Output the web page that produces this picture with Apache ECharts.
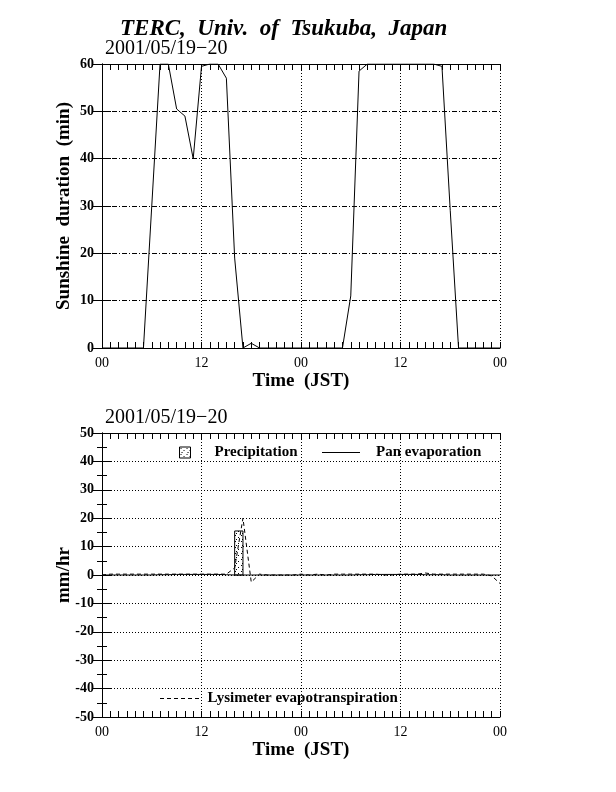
<!DOCTYPE html>
<html>
<head>
<meta charset="utf-8">
<script src="https://cdn.jsdelivr.net/npm/echarts@6/dist/echarts.min.js"></script>
<style>
html, body { margin: 0; padding: 0; background: #fff; }
#main { width: 616px; height: 792px; }
</style>
</head>
<body>
<div id="main"></div>
<script>
// hours since 2001/05/19 00 JST
var hours = [0,1,2,3,4,5,6,7,8,9,10,11,12,13,14,15,16,17,18,19,20,21,22,23,24,
             25,26,27,28,29,30,31,32,33,34,35,36,37,38,39,40,41,42,43,44,45,46,47,48];
// sunshine duration (min per hour)
var sunshine = [0,0,0,0,0,0,30,60,60,50.5,49,40,59.5,60,60,57,19,0,1,0,0,0,0,0,0,
                0,0,0,0,0,11,58.5,60,60,60,60,60,60,60,60,60,59.5,29,0,0,0,0,0,0];
// precipitation (mm/hr), bar covers [hour, hour+1]
var precipHours = [16];
var precipAmounts = [15.5];
// pan evaporation (mm/hr)
var panEvap = [0,0,0,0,0,0,0,0.1,0.1,0.2,0.2,0.2,0.2,0.2,0.2,0.1,0,0,0,0,0,0,0,0,0,
               0,0,0,0,0,0,0.1,0.1,0.2,0.2,0.2,0.2,0.2,0.2,0.1,0.1,0.1,0,0,0,0,0,0,0];
// lysimeter evapotranspiration (mm/hr)
var lysimeter = [0,0.3,0.3,0.3,0.3,0.3,0.3,0.3,0.3,0.3,0.3,0.3,0.3,0.3,0.3,0.3,2.5,20,-2.5,0.3,0,0,0,0,0.3,
                 0,0.3,0,0.3,0.3,0.3,0.3,0.3,0.3,0,0,0.3,0.3,0.3,0.7,0.3,0.3,0.3,0.3,0.3,0.3,0.3,-0.3,-3];
var timeTicks = [0, 12, 24, 36, 48];
var timeLabels = ['00', '12', '00', '12', '00'];

var SERIF = 'Liberation Serif';

function pairs(xs, ys) {
    var out = [];
    for (var i = 0; i < xs.length; i++) out.push([xs[i], ys[i]]);
    return out;
}

// stippled fill for the precipitation bar
var dots = document.createElement('canvas');
dots.width = 6; dots.height = 6;
var dc = dots.getContext('2d');
dc.fillStyle = '#fff'; dc.fillRect(0, 0, 6, 6);
dc.fillStyle = '#000';
dc.fillRect(1, 1, 1, 1); dc.fillRect(4, 3, 1, 1); dc.fillRect(2, 5, 1, 1);
var dotFill = { image: dots, repeat: 'repeat' };

// legend icons: a plain stroke and a dashed stroke
var solidIcon = 'path://M0,0H38V1H0Z';
var dashIcon = 'path://M0,0h4v1h-4zM7,0h4v1h-4zM14,0h4v1h-4zM21,0h4v1h-4zM28,0h4v1h-4zM35,0h4v1h-4z';

var legendText = { fontFamily: SERIF, fontWeight: 'bold', fontSize: 15, color: '#000' };

function timeAxis(grid, pos, withLabel) {
    return {
        type: 'value', gridIndex: grid, position: pos, min: 0, max: 48, interval: 12,
        axisLine: { onZero: false, lineStyle: { color: '#000', width: 1 } },
        axisTick: { inside: true, length: 6, lineStyle: { color: '#000' } },
        minorTick: { show: true, splitNumber: 12, length: 6, lineStyle: { color: '#000' } },
        splitLine: { show: withLabel, lineStyle: { color: '#000', type: [1, 2] } },
        axisLabel: {
            show: withLabel, margin: 8, color: '#000', fontFamily: SERIF, fontSize: 14,
            formatter: function (v) { return timeLabels[timeTicks.indexOf(v)]; }
        },
        name: withLabel ? 'Time  (JST)' : '', nameLocation: 'middle', nameGap: 24,
        nameTextStyle: { color: '#000', fontFamily: SERIF, fontWeight: 'bold', fontSize: 19 }
    };
}

function valueAxis(grid, pos, min, max, minor, gridType, name) {
    var main = pos === 'left';
    return {
        type: 'value', gridIndex: grid, position: pos, min: min, max: max, interval: 10,
        axisLine: { show: true, lineStyle: { color: '#000', width: 1 } },
        axisTick: { show: true, inside: true, length: 9, lineStyle: { color: '#000' } },
        minorTick: { show: minor, splitNumber: 2, length: 5, lineStyle: { color: '#000' } },
        splitLine: { show: main, lineStyle: { color: '#000', type: gridType } },
        axisLabel: { show: main, margin: 8, color: '#000', fontFamily: SERIF, fontWeight: 'bold', fontSize: 14 },
        name: main ? name : '', nameLocation: 'middle', nameRotate: 90, nameGap: 28,
        nameMoveOverlap: false,
        nameTextStyle: { color: '#000', fontFamily: SERIF, fontWeight: 'bold', fontSize: 19 }
    };
}

var chart = echarts.init(document.getElementById('main'));
var option = {
    backgroundColor: '#fff',
    animation: false,
    title: [
        { text: 'TERC,  Univ.  of  Tsukuba,  Japan', left: 115, top: 13,
          textStyle: { fontFamily: SERIF, fontStyle: 'italic', fontWeight: 'bold', fontSize: 23, color: '#000' } },
        { text: '2001/05/19\u221220', left: 100, top: 34,
          textStyle: { fontFamily: SERIF, fontWeight: 'normal', fontSize: 20, color: '#000' } },
        { text: '2001/05/19\u221220', left: 100, top: 403,
          textStyle: { fontFamily: SERIF, fontWeight: 'normal', fontSize: 20, color: '#000' } }
    ],
    legend: [
        { data: [{ name: 'Precipitation', icon: 'rect',
                   itemStyle: { color: dotFill, borderColor: '#000', borderWidth: 1 } }],
          left: 179, top: 445, padding: 0, itemWidth: 11, itemHeight: 11, selectedMode: false,
          textStyle: Object.assign({ padding: [0, 0, 0, 19] }, legendText) },
        { data: [{ name: 'Pan evaporation', icon: solidIcon }], left: 322, top: 445, padding: 0,
          itemWidth: 38, itemHeight: 1, selectedMode: false,
          textStyle: Object.assign({ padding: [0, 0, 0, 11] }, legendText) },
        { data: [{ name: 'Lysimeter evapotranspiration', icon: dashIcon }], left: 160, top: 691, padding: 0,
          itemWidth: 40, itemHeight: 1, selectedMode: false,
          textStyle: Object.assign({ padding: [0, 0, 0, 3] }, legendText) }
    ],
    grid: [
        { left: 102, right: 116, top: 64, height: 284 },
        { left: 102, right: 116, top: 433, height: 284 }
    ],
    xAxis: [
        timeAxis(0, 'bottom', true), timeAxis(0, 'top', false),
        timeAxis(1, 'bottom', true), timeAxis(1, 'top', false)
    ],
    yAxis: [
        valueAxis(0, 'left', 0, 60, false, [5, 2, 1, 2], 'Sunshine  duration  (min)'),
        valueAxis(0, 'right', 0, 60, false, 'solid', ''),
        valueAxis(1, 'left', -50, 50, true, [1, 2], 'mm/hr'),
        valueAxis(1, 'right', -50, 50, true, 'solid', '')
    ],
    series: [
        { name: 'Sunshine', type: 'line', xAxisIndex: 0, yAxisIndex: 0,
          data: pairs(hours, sunshine), symbol: 'none',
          lineStyle: { color: '#000', width: 1 } },
        { name: 'Precipitation', type: 'custom', xAxisIndex: 2, yAxisIndex: 2,
          data: pairs(precipHours, precipAmounts),
          itemStyle: { color: dotFill, borderColor: '#000' },
          renderItem: function (params, api) {
              var h = api.value(0), v = api.value(1);
              var p0 = api.coord([h, v]);
              var p1 = api.coord([h + 1, 0]);
              return { type: 'rect',
                       shape: { x: p0[0], y: p0[1], width: p1[0] - p0[0], height: p1[1] - p0[1] },
                       style: { fill: dotFill, stroke: '#000', lineWidth: 1 } };
          } },
        { name: 'Pan evaporation', type: 'line', xAxisIndex: 2, yAxisIndex: 2,
          data: pairs(hours, panEvap), symbol: 'none', z: 3,
          itemStyle: { color: '#000' },
          lineStyle: { color: '#000', width: 1 } },
        { name: 'Lysimeter evapotranspiration', type: 'line', xAxisIndex: 2, yAxisIndex: 2,
          data: pairs(hours, lysimeter), symbol: 'none', z: 4,
          itemStyle: { color: '#000' },
          lineStyle: { color: '#000', width: 1, type: [4, 3] } }
    ]
};
chart.setOption(option);
</script>
</body>
</html>
